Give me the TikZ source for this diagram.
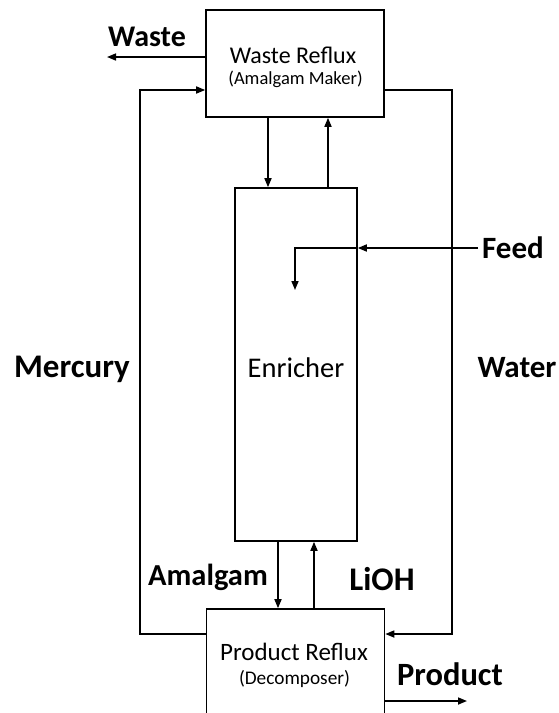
\documentclass[tikz,border=0pt]{standalone}
\usepackage{fontspec}
\setmainfont{Carlito}
\usetikzlibrary{arrows.meta}
\tikzset{
  box/.style={draw, line width=1.6pt, inner sep=0pt},
  flow/.style={line width=1.6pt, -{Triangle[length=9pt,width=7pt]}},
  plain/.style={line width=1.6pt},
  lbl/.style={anchor=base, inner sep=0pt, font=\bfseries\fontsize{31}{31}\selectfont},
  txt/.style={anchor=base, inner sep=0pt},
}
\begin{document}
\begin{tikzpicture}[x=1pt,y=-1pt]
\clip (0,0) rectangle (559,713);
\fill[white] (0,0) rectangle (559,713);
% boxes
\node[box, minimum width=178pt, minimum height=107pt] (wr) at (295,63.5) {};
\node[box, minimum width=122pt, minimum height=353pt] (en) at (296,364.5) {};
\node[box, minimum width=178pt, minimum height=160pt] (pr) at (295.5,689) {};
% box texts
\node[txt, font=\fontsize{24}{24}\selectfont] (wrt1) at (293,63) {Waste Reflux};
\node[txt, font=\fontsize{18.5}{18.5}\selectfont] (wrt2) at (295.5,84) {(Amalgam Maker)};
\node[txt, font=\fontsize{28.5}{28.5}\selectfont] (ent) at (296,377) {Enricher};
\node[txt, font=\fontsize{25}{25}\selectfont] (prt1) at (294,660) {Product Reflux};
\node[txt, font=\fontsize{19.3}{19.3}\selectfont] (prt2) at (294.5,684) {(Decomposer)};
% labels
\node[lbl, font=\bfseries\fontsize{30}{30}\selectfont] (lwaste) at (147,46) {Waste};
\node[lbl, font=\bfseries\fontsize{33}{33}\selectfont] (lmerc) at (72,377) {Mercury};
\node[lbl] (lwater) at (517,377) {Water};
\node[lbl] (lfeed) at (513,258) {Feed};
\node[lbl, font=\bfseries\fontsize{30.5}{30.5}\selectfont] (lamal) at (208,585) {Amalgam};
\node[lbl, font=\bfseries\fontsize{33}{33}\selectfont] (llioh) at (382,590) {LiOH};
\node[lbl, font=\bfseries\fontsize{32.5}{32.5}\selectfont] (lprod) at (450,685) {Product};
% coordinates
\coordinate (wasteend) at (107,57);
\coordinate (m1) at (140,634);
\coordinate (m2) at (140,90);
\coordinate (w1) at (452,90);
\coordinate (w2) at (452,634);
\coordinate (xa) at (268,0);
\coordinate (xb) at (328,0);
\coordinate (xc) at (278,0);
\coordinate (xd) at (314,0);
\coordinate (f0) at (478,248);
\coordinate (f1) at (295,248);
\coordinate (f2) at (295,290);
\coordinate (p0) at (467,701);
% connectors
\draw[flow] (wr.west |- wasteend) -- (wasteend);
\draw[flow] (pr.west |- m1) -- (m1) -- (m2) -- (wr.west |- m2);
\draw[flow] (wr.east |- w1) -- (w1) -- (w2) -- (pr.east |- w2);
\draw[flow] (wr.south -| xa) -- (en.north -| xa);
\draw[flow] (en.north -| xb) -- (wr.south -| xb);
\draw[flow] (en.south -| xc) -- (pr.north -| xc);
\draw[flow] (pr.north -| xd) -- (en.south -| xd);
\draw[flow] (f0) -- (en.east |- f0);
\draw[flow] (en.east |- f0) -- (f1) -- (f2);
\draw[flow] (pr.east |- p0) -- (p0);
\end{tikzpicture}
\end{document}
